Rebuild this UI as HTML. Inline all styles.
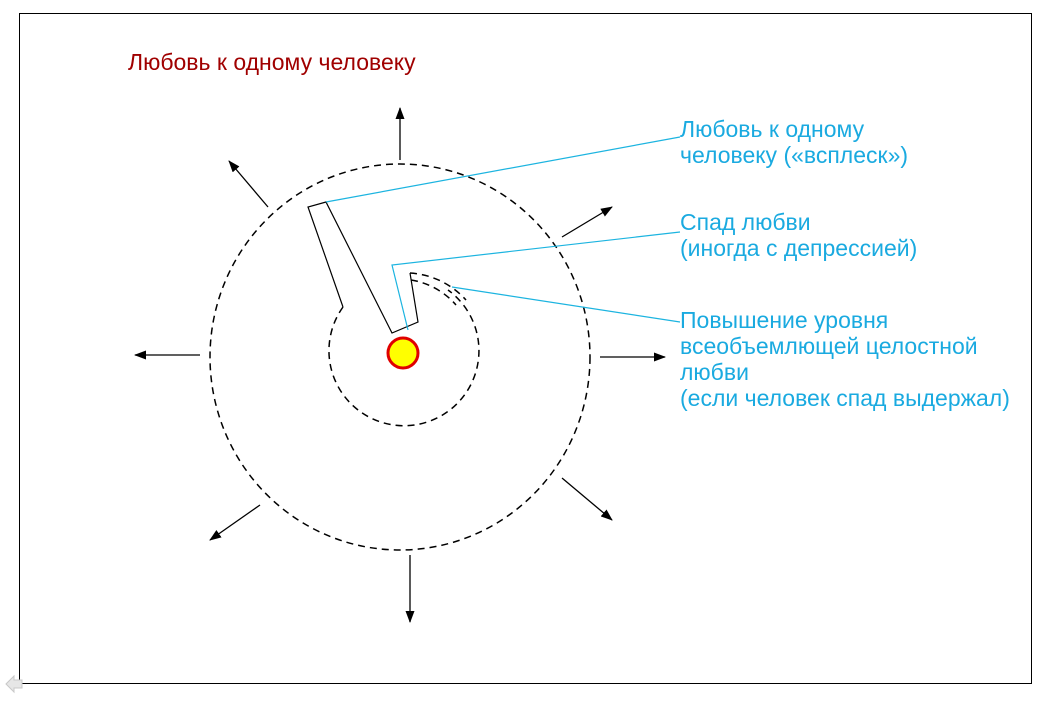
<!DOCTYPE html>
<html><head><meta charset="utf-8"><style>
body{margin:0;background:#fff;}
svg{display:block;}
text{font-family:"Liberation Sans",sans-serif;font-size:23px;}
</style></head><body>
<svg width="1046" height="701" xmlns="http://www.w3.org/2000/svg">
<defs><marker id="a" markerWidth="12" markerHeight="9" refX="11" refY="4.5" orient="auto" markerUnits="userSpaceOnUse"><path d="M0,0 L12,4.5 L0,9 z" fill="#000"/></marker></defs>
<rect x="19.5" y="13.5" width="1012" height="670" fill="none" stroke="#000" stroke-width="1"/>
<text x="128" y="70" fill="#a00000">Любовь к одному человеку</text>
<ellipse cx="400" cy="357" rx="190" ry="193" fill="none" stroke="#000" stroke-width="1.5" stroke-dasharray="7,5"/>
<g stroke="#000" stroke-width="1.3" marker-end="url(#a)">
<line x1="400" y1="160" x2="400" y2="108"/>
<line x1="600" y1="357" x2="665" y2="357"/>
<line x1="200" y1="355" x2="135" y2="355"/>
<line x1="410" y1="555" x2="410" y2="622"/>
<line x1="268" y1="207" x2="229" y2="161"/>
<line x1="562" y1="237" x2="612" y2="207"/>
<line x1="562" y1="478" x2="612" y2="520"/>
<line x1="260" y1="505" x2="210" y2="540"/>
</g>
<path d="M343,307 A75,75 0 1 0 448,290" fill="none" stroke="#000" stroke-width="1.5" stroke-dasharray="7,5"/>
<path d="M411,280 A75,75 0 0 1 456,305" fill="none" stroke="#000" stroke-width="1.5" stroke-dasharray="7,5"/>
<path d="M410,273 A82,82 0 0 1 466,300" fill="none" stroke="#000" stroke-width="1.5" stroke-dasharray="7,5"/>
<polyline points="343,307 308,207 326,202 392,333 418,322 410,273" fill="none" stroke="#000" stroke-width="1.2"/>
<circle cx="403" cy="353" r="15" fill="#ffff00" stroke="#e00000" stroke-width="3"/>
<g stroke="#1cb4e0" stroke-width="1.2" fill="none">
<line x1="326" y1="202" x2="680" y2="137"/>
<polyline points="408,330 392,265 680,232"/>
<line x1="452" y1="287" x2="680" y2="322"/>
</g>
<g fill="#1aaae0">
<text x="680" y="137">Любовь к одному</text>
<text x="680" y="163">человеку («всплеск»)</text>
<text x="680" y="230">Спад любви</text>
<text x="680" y="256">(иногда с депрессией)</text>
<text x="680" y="328">Повышение уровня</text>
<text x="680" y="354">всеобъемлющей целостной</text>
<text x="680" y="380">любви</text>
<text x="680" y="406">(если человек спад выдержал)</text>
</g>
<path d="M6,684 L14,676 L14,680 L22,680 L22,688 L14,688 L14,692 z" fill="#e6e6e6" stroke="#c8c8c8"/>
</svg>
</body></html>
